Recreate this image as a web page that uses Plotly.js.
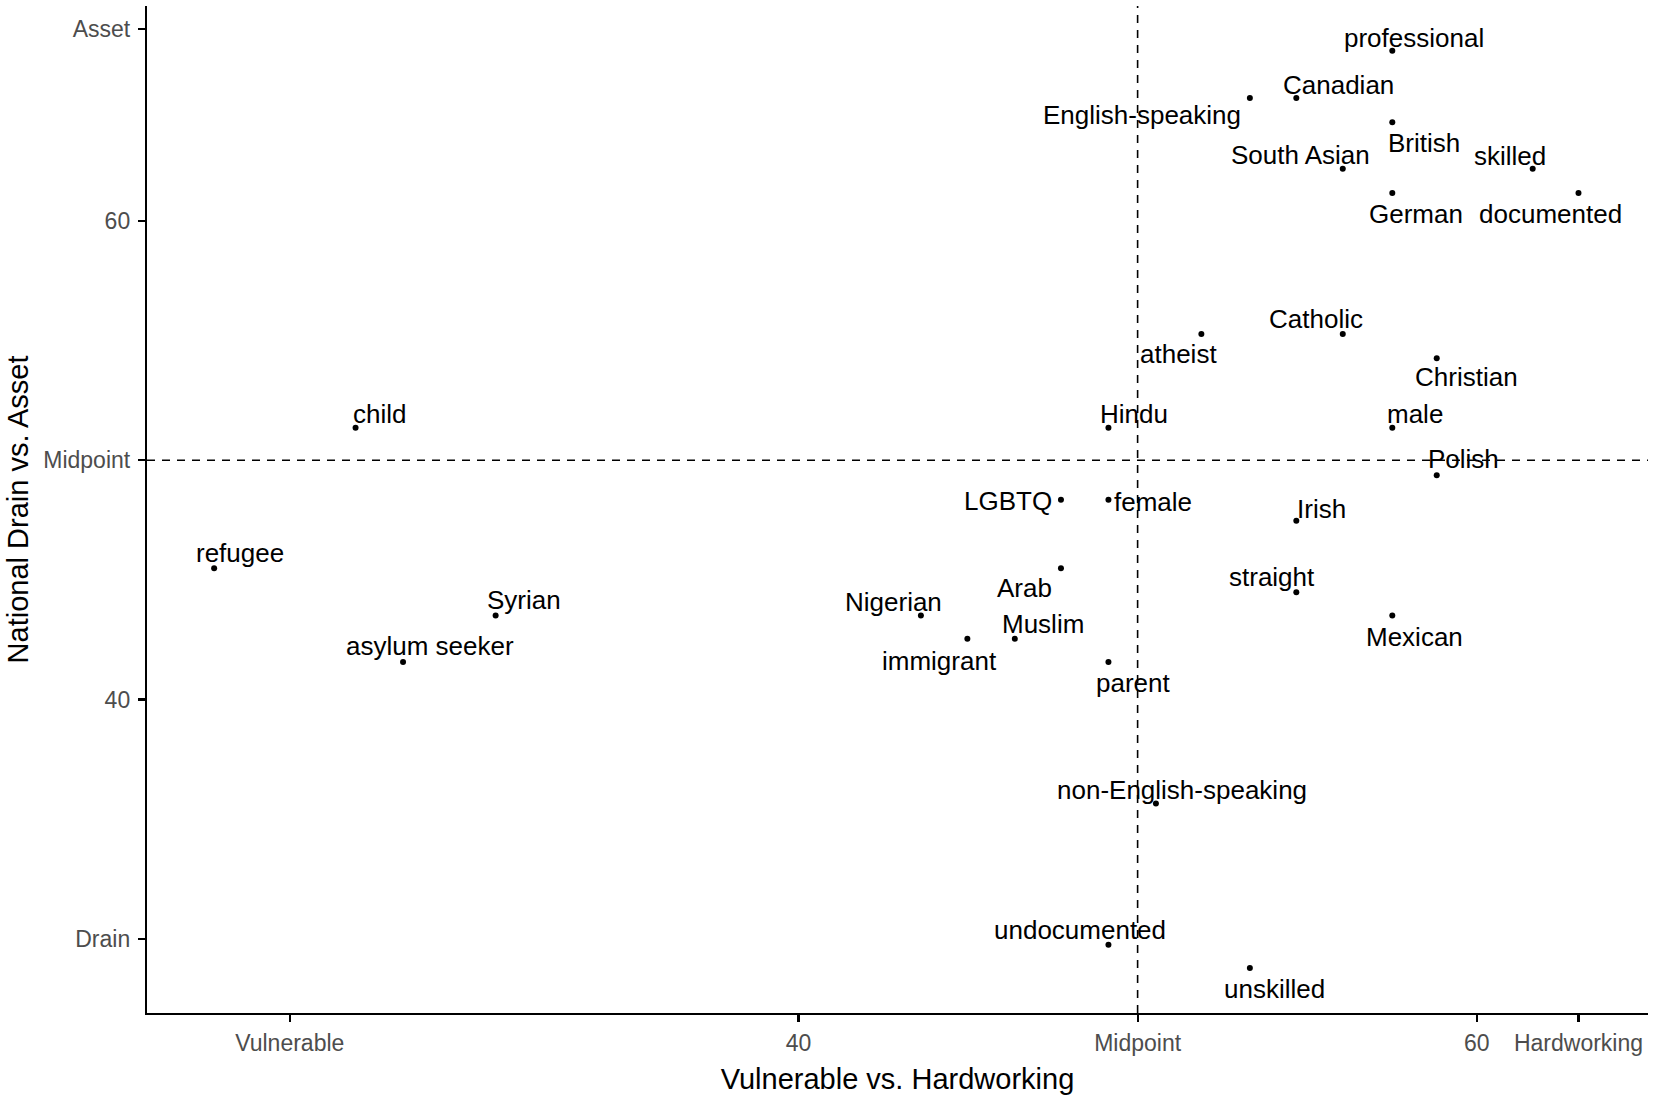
<!DOCTYPE html>
<html>
<head>
<meta charset="utf-8">
<script src="https://cdn.plot.ly/plotly-3.0.1.min.js"></script>
<style>html,body{margin:0;padding:0;background:#fff;}#chart{width:1654px;height:1098px;}</style>
</head>
<body>
<div id="chart"></div>
<script>
// ---- data ----
const groups = ["professional","Canadian","English-speaking","British","South Asian","skilled","German","documented",
  "Catholic","atheist","Christian","child","Hindu","male","Polish","LGBTQ","female","Irish","refugee","Arab",
  "straight","Syrian","Nigerian","Mexican","Muslim","asylum seeker","immigrant","parent","non-English-speaking",
  "undocumented","unskilled"];
const hardworking = [57.51,54.68,53.31,57.51,56.05,61.65,57.51,63.0,
  56.05,51.88,58.82,26.94,49.14,57.51,58.82,47.74,49.14,54.68,22.77,47.74,
  54.68,31.07,43.61,57.51,46.38,28.34,44.98,49.14,50.54,
  49.14,53.31];
const asset = [67.10,65.13,65.13,64.11,62.17,62.17,61.16,61.16,
  55.27,55.27,54.26,51.35,51.35,51.35,49.37,48.35,48.35,47.47,45.49,45.49,
  44.48,43.51,43.51,43.51,42.54,41.57,42.54,41.57,35.66,
  29.76,28.79];
// label offsets from their point, in pixels (right, down)
const labelDx = [22,42,-108,32,-42,-23,24,-28,
  -27,-23,30,24,26,23,27,-53,45,25,26,-36,
  -24,28,-27,22,28,27,-28,25,26,
  -28,25];
const labelDy = [-13,-13,17,21,-14,-13,21,21,
  -15,20,19,-14,-14,-14,-16,1,2,-12,-15,20,
  -15,-16,-14,21,-15,-16,22,21,-14,
  -15,21];
const xTickVals = [25,40,50,60,63];
const xTickText = ["Vulnerable","40","Midpoint","60","Hardworking"];
const yTickVals = [30,40,50,60,68];
const yTickText = ["Drain","40","Midpoint","60","Asset"];
const midX = 50, midY = 50;

const FONT = "Liberation Sans, Arial, sans-serif";

const trace = {
  type: "scatter", mode: "markers",
  x: hardworking, y: asset, text: groups,
  marker: {color: "#000", size: 6},
  hoverinfo: "text", showlegend: false
};

const annotations = groups.map((g,i) => ({
  x: hardworking[i], y: asset[i], xref: "x", yref: "y",
  text: g, showarrow: false,
  xshift: labelDx[i], yshift: -labelDy[i],
  font: {family: FONT, size: 26, color: "#000"}
}));

const layout = {
  width: 1654, height: 1098,
  paper_bgcolor: "#fff", plot_bgcolor: "#fff",
  margin: {l: 147, r: 6, t: 6, b: 85},
  font: {family: FONT},
  xaxis: {
    range: [20.79, 65.05], tickmode: "array", tickvals: xTickVals, ticktext: xTickText,
    showgrid: false, zeroline: false, showline: true, linecolor: "#000", linewidth: 2.2,
    ticks: "outside", ticklen: 7, tickwidth: 2.2, tickcolor: "#000",
    tickfont: {family: FONT, size: 23, color: "#4d4d4d"}, ticklabelstandoff: 1,
    title: {text: "Vulnerable vs. Hardworking", font: {family: FONT, size: 29, color: "#000"}, standoff: 14},
    automargin: false
  },
  yaxis: {
    range: [26.91, 68.97], tickmode: "array", tickvals: yTickVals, ticktext: yTickText,
    showgrid: false, zeroline: false, showline: true, linecolor: "#000", linewidth: 2.2,
    ticks: "outside", ticklen: 7, tickwidth: 2.2, tickcolor: "#000",
    tickfont: {family: FONT, size: 23, color: "#4d4d4d"}, ticklabelstandoff: 3,
    title: {text: "National Drain vs. Asset", font: {family: FONT, size: 29, color: "#000"}, standoff: 6},
    automargin: false
  },
  shapes: [
    {type: "line", xref: "x", yref: "paper", x0: midX, x1: midX, y0: 0, y1: 1,
     line: {color: "#000", width: 1.6, dash: "8px,7px"}},
    {type: "line", xref: "paper", yref: "y", x0: 0, x1: 1, y0: midY, y1: midY,
     line: {color: "#000", width: 1.6, dash: "8px,7px"}}
  ],
  annotations: annotations
};

Plotly.newPlot("chart", [trace], layout, {displayModeBar: false, staticPlot: true});
</script>
</body>
</html>
